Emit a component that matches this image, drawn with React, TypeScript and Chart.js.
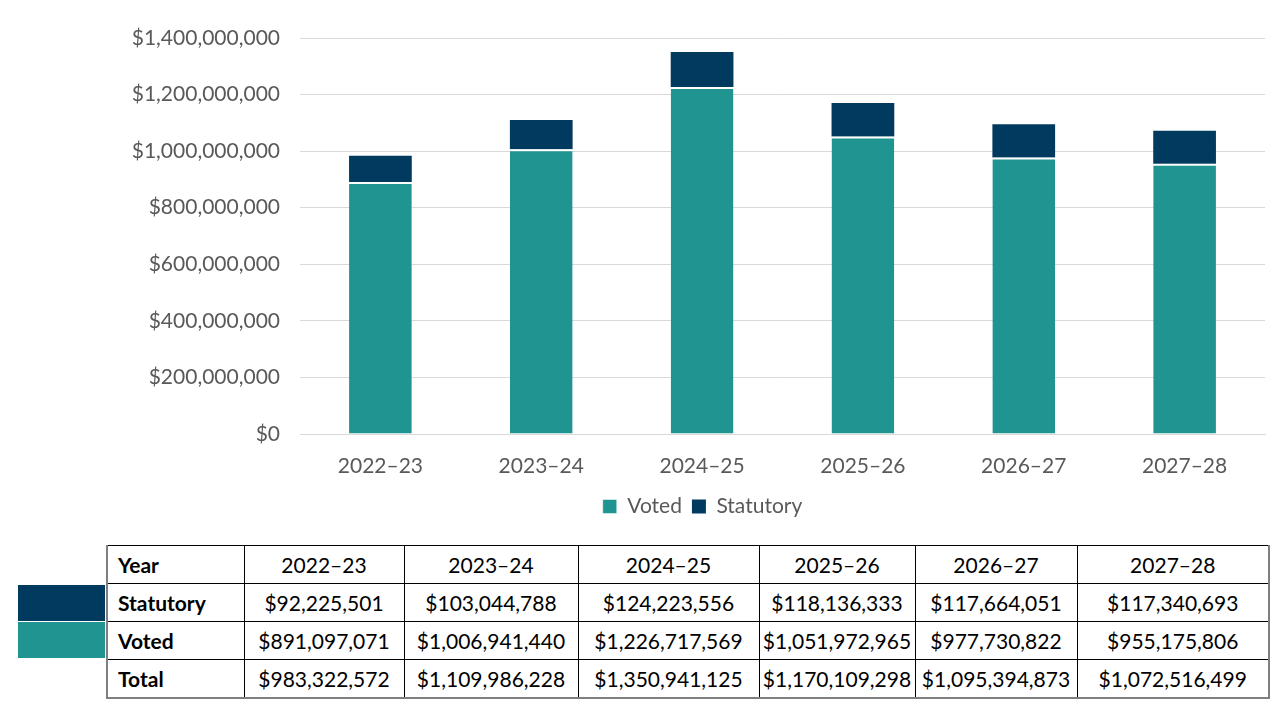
import React, { useEffect, useRef } from "react";
import Chart from "chart.js/auto";

const years = ["2022–23", "2023–24", "2024–25", "2025–26", "2026–27", "2027–28"];
const voted = [891097071, 1006941440, 1226717569, 1051972965, 977730822, 955175806];
const statutory = [92225501, 103044788, 124223556, 118136333, 117664051, 117340693];
const totals = [983322572, 1109986228, 1350941125, 1170109298, 1095394873, 1072516499];
const yTicks = [0, 200000000, 400000000, 600000000, 800000000, 1000000000, 1200000000, 1400000000];

const TEAL = "#1f9490";
const NAVY = "#003a5f";
const FONT = "Lato, 'Open Sans', sans-serif";

const money = (v: number) => "$" + v.toLocaleString("en-US");

const colWidths = [137, 160, 174, 181, 156, 162, 192];

// nudge the legend right so it sits where the original has it
const legendShift = {
  id: "legendShift",
  afterLayout(chart: any) {
    if (chart.legend) chart.legend.left += 140;
  },
};

const BudgetChart = () => {
  const chartRef = useRef<HTMLCanvasElement | null>(null);

  useEffect(() => {
    if (!chartRef.current) return;
    const ctx = chartRef.current.getContext("2d");
    if (!ctx) return;

    const chart = new Chart(ctx, {
      type: "bar",
      data: {
        labels: years,
        datasets: [
          {
            label: "Voted",
            data: voted,
            backgroundColor: TEAL,
            borderColor: "#ffffff",
            borderWidth: { top: 2, bottom: 0, left: 0, right: 0 },
            borderSkipped: false,
          },
          {
            label: "Statutory",
            data: statutory,
            backgroundColor: NAVY,
            borderWidth: 0,
          },
        ],
      },
      options: {
        animation: false,
        responsive: false,
        layout: { padding: { top: 38, right: 15, bottom: 3, left: 0 } },
        datasets: {
          bar: { categoryPercentage: 1, barPercentage: 0.39 },
        },
        scales: {
          x: {
            stacked: true,
            grid: { display: false, drawTicks: false },
            border: { color: "#d9d9d9" },
            ticks: {
              color: "#595959",
              font: { family: FONT, size: 21 },
              padding: 20,
            },
            afterFit: (s: any) => {
              s.height = 52;
            },
          },
          y: {
            stacked: true,
            min: 0,
            max: 1400000000,
            afterBuildTicks: (s: any) => {
              s.ticks = yTicks.map((v) => ({ value: v }));
            },
            grid: { color: "#d9d9d9", drawTicks: false },
            border: { display: false },
            ticks: {
              color: "#595959",
              font: { family: FONT, size: 21 },
              padding: 20,
              callback: (v: any) => money(Number(v)),
            },
            afterFit: (s: any) => {
              s.width = 300;
            },
          },
        },
        plugins: {
          legend: {
            position: "bottom",
            labels: {
              color: "#595959",
              font: { family: FONT, size: 21 },
              boxWidth: 14,
              boxHeight: 14,
              padding: 10,
            },
          },
          tooltip: { enabled: false },
        },
      },
      plugins: [legendShift],
    });

    return () => {
      chart.destroy();
    };
  }, []);

  return <canvas ref={chartRef} width={1280} height={530} style={{ display: "block" }} />;
};

const cell: React.CSSProperties = {
  border: "1px solid #000",
  height: 37,
  padding: 0,
  textAlign: "center",
  fontSize: 21,
  color: "#000",
  whiteSpace: "nowrap",
};

const headCell: React.CSSProperties = {
  ...cell,
  textAlign: "left",
  paddingLeft: 10,
  fontWeight: 700,
};

const rows: [string, number[]][] = [
  ["Statutory", statutory],
  ["Voted", voted],
  ["Total", totals],
];

const App = () => {
  return (
    <div
      style={{
        position: "absolute",
        left: 0,
        top: 0,
        width: 1280,
        height: 720,
        background: "#fff",
        fontFamily: FONT,
        overflow: "hidden",
      }}
    >
      <BudgetChart />
      <div style={{ position: "absolute", left: 18, top: 585, width: 87, height: 36, background: NAVY }} />
      <div style={{ position: "absolute", left: 18, top: 622, width: 87, height: 36, background: TEAL }} />
      <table
        style={{
          position: "absolute",
          left: 106,
          top: 545,
          borderCollapse: "collapse",
          tableLayout: "fixed",
          width: colWidths.reduce((a, b) => a + b, 0),
          borderLeft: "2px solid #7f7f7f",
          borderBottom: "2px solid #7f7f7f",
          borderRight: "2px solid #7f7f7f",
        }}
      >
        <colgroup>
          {colWidths.map((w, i) => (
            <col key={i} style={{ width: w }} />
          ))}
        </colgroup>
        <tbody>
          <tr>
            <td style={headCell}>Year</td>
            {years.map((y) => (
              <td key={y} style={cell}>
                {y}
              </td>
            ))}
          </tr>
          {rows.map(([name, vals]) => (
            <tr key={name}>
              <td style={headCell}>{name}</td>
              {vals.map((v, i) => (
                <td key={i} style={cell}>
                  {money(v)}
                </td>
              ))}
            </tr>
          ))}
        </tbody>
      </table>
    </div>
  );
};

export default App;
